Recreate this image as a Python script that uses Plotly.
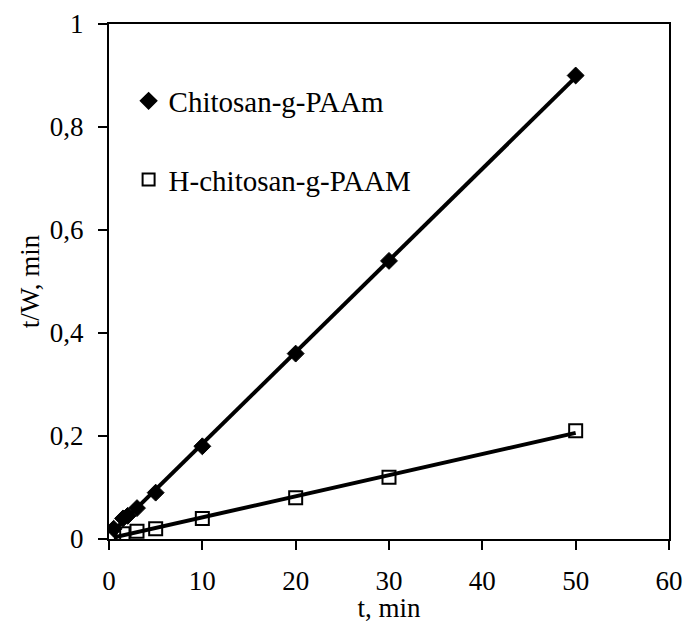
import numpy as np
import plotly.graph_objects as go

# Data
t_chit = [0.5, 1.5, 2, 3, 5, 10, 20, 30, 50]
y_chit = [0.02, 0.04, 0.045, 0.06, 0.09, 0.18, 0.36, 0.54, 0.90]
t_h = [0.5, 1.5, 3, 5, 10, 20, 30, 50]
y_h = [0.005, 0.01, 0.015, 0.02, 0.04, 0.08, 0.12, 0.21]
names = ["Chitosan-g-PAAm", "H-chitosan-g-PAAM"]

FONT = "Liberation Serif, Times New Roman, serif"

fig = go.Figure()

def fit_line(t, y):
    k, b = np.polyfit(t, y, 1)
    xs = np.array([min(t), max(t)])
    return xs, k * xs + b

for t, y in [(t_chit, y_chit), (t_h, y_h)]:
    xs, ys = fit_line(t, y)
    fig.add_trace(go.Scatter(x=xs, y=ys, mode="lines",
                             line=dict(color="black", width=4),
                             showlegend=False, hoverinfo="skip"))

fig.add_trace(go.Scatter(x=t_chit, y=y_chit, mode="markers", name=names[0],
                         legendgroup="a",
                         marker=dict(symbol="diamond", size=13, color="black",
                                     line=dict(color="black", width=1))))
fig.add_trace(go.Scatter(x=t_h, y=y_h, mode="markers", name=names[1],
                         legendgroup="b",
                         marker=dict(symbol="square-open", size=13, color="black",
                                     line=dict(color="black", width=2))))

axis_common = dict(showgrid=False, zeroline=False, showline=True,
                   linecolor="black", linewidth=2, mirror=True, automargin=False,
                   ticks="outside", ticklen=9, tickwidth=2, tickcolor="black",
                   tickfont=dict(family=FONT, size=27, color="black"))

fig.update_xaxes(range=[0, 60], tickvals=[0, 10, 20, 30, 40, 50, 60],
                 ticklabelstandoff=8,
                 title=dict(text="t, min", font=dict(family=FONT, size=27, color="black"),
                            standoff=7),
                 **axis_common)
fig.update_yaxes(range=[0, 1], tickvals=[0, 0.2, 0.4, 0.6, 0.8, 1],
                 ticklabelstandoff=9,
                 title=dict(text="t/W, min", font=dict(family=FONT, size=27, color="black"),
                            standoff=2),
                 **axis_common)

fig.update_layout(
    width=685, height=623,
    margin=dict(l=109, r=16, t=24, b=84),
    paper_bgcolor="white", plot_bgcolor="white",
    separators=", ",
    font=dict(family=FONT, color="black"),
    legend=dict(x=0.035, y=0.9, xanchor="left", yanchor="top",
                font=dict(family=FONT, size=29, color="black"),
                bgcolor="rgba(0,0,0,0)", tracegroupgap=38,
                itemsizing="constant"),
)

fig.write_html("out.html",
               config={"displayModeBar": False},
               post_script="document.body.style.margin='0';document.body.style.overflow='hidden';")
